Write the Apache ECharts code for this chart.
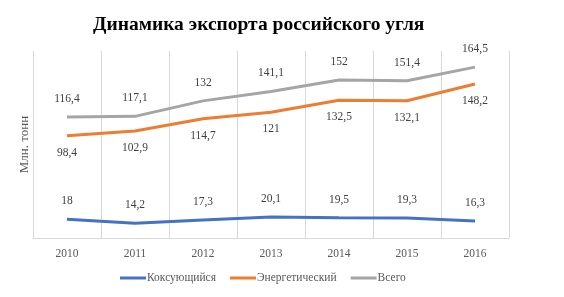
<!DOCTYPE html>
<html>
<head>
<meta charset="utf-8">
<script src="https://cdn.jsdelivr.net/npm/echarts@6/dist/echarts.min.js"></script>
<style>
    html, body { margin: 0; padding: 0; background: #fff; }
    #chart { width: 564px; height: 297px; }
</style>
</head>
<body>
<div id="chart"></div>
<script>
    var years = ['2010', '2011', '2012', '2013', '2014', '2015', '2016']
    var coking = [18, 14.2, 17.3, 20.1, 19.5, 19.3, 16.3]
    var energy = [98.4, 102.9, 114.7, 121, 132.5, 132.1, 148.2]
    var total = [116.4, 117.1, 132, 141.1, 152, 151.4, 164.5]

    var serif = '"Liberation Serif", "DejaVu Serif", serif'
    var fmt = function (p) { return String(p.value).replace('.', ',') }

    function lineSeries (name, data, color, pos) {
        return {
            name: name,
            type: 'line',
            data: data,
            symbol: 'circle',
            symbolSize: 0,
            showSymbol: true,
            lineStyle: { color: color, width: 3 },
            itemStyle: { color: color },
            label: {
                show: true,
                position: pos,
                distance: pos === 'top' ? 12 : 11,
                formatter: fmt,
                fontFamily: serif,
                fontSize: 11.5,
                color: '#404040'
            }
        }
    }

    var myChart = echarts.init(document.getElementById('chart'))
    myChart.setOption({
        animation: false,
        title: {
            text: 'Динамика экспорта российского угля',
            left: 88,
            top: 10,
            textStyle: { fontFamily: serif, fontSize: 19.5, fontWeight: 'bold', color: '#000' }
        },
        legend: {
            bottom: 8,
            left: 115,
            itemWidth: 26,
            itemHeight: 3,
            itemGap: 14,
            icon: 'rect',
            textStyle: { fontFamily: serif, fontSize: 11.5, color: '#595959', padding: [0, 0, 0, -4] },
            data: ['Коксующийся', 'Энергетический', 'Всего']
        },
        grid: { left: 33, right: 55, top: 51, bottom: 59 },
        xAxis: {
            type: 'category',
            data: years,
            boundaryGap: true,
            axisLine: { lineStyle: { color: '#d9d9d9' } },
            axisTick: { show: false },
            axisLabel: { fontFamily: serif, fontSize: 11.5, color: '#595959', margin: 10 },
            splitLine: { show: true, lineStyle: { color: '#d9d9d9' } }
        },
        yAxis: {
            type: 'value',
            min: 0,
            max: 180,
            name: 'Млн. тонн',
            nameLocation: 'middle',
            nameGap: 2,
            nameTextStyle: { fontFamily: serif, fontSize: 13, color: '#595959' },
            axisLine: { show: false },
            axisTick: { show: false },
            axisLabel: { show: false },
            splitLine: { show: false }
        },
        series: [
            lineSeries('Коксующийся', coking, '#4472C4', 'top'),
            lineSeries('Энергетический', energy, '#ED7D31', 'bottom'),
            lineSeries('Всего', total, '#A5A5A5', 'top')
        ]
    })
</script>
</body>
</html>
